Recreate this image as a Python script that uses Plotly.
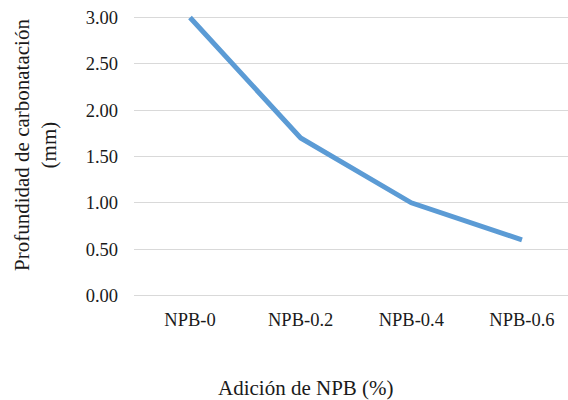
import plotly.graph_objects as go

categories = ["NPB-0", "NPB-0.2", "NPB-0.4", "NPB-0.6"]
values = [3.00, 1.70, 1.00, 0.60]
y_ticks = [0, 0.5, 1.0, 1.5, 2.0, 2.5, 3.0]
x_title = "Adición de NPB (%)"
y_title = "Profundidad de carbonatación<br>(mm)"

W, H = 568, 400
L, R, T, B = 134, 0, 12, 99
pw, ph = W - L - R, H - T - B

font = "Liberation Serif"

fig = go.Figure()
fig.add_trace(go.Scatter(
    x=list(range(len(categories))), y=values, mode="lines",
    line=dict(color="#5b9bd5", width=5),
    showlegend=False, hoverinfo="skip",
))

fig.update_layout(
    width=W, height=H,
    margin=dict(l=L, r=R, t=T, b=B, pad=0),
    paper_bgcolor="white", plot_bgcolor="white",
    font=dict(family=font, size=18.5, color="#1a1a1a"),
    xaxis=dict(
        range=[-0.506, 3.416], tickmode="array",
        tickvals=list(range(len(categories))), ticktext=categories,
        tickfont=dict(family=font, size=18.5),
        showgrid=False, zeroline=False, showline=False, ticks="",
        ticklabelstandoff=5, fixedrange=True,
    ),
    yaxis=dict(
        range=[-0.06, 3.06], tickmode="array", tickvals=y_ticks,
        ticktext=[f"{v:.2f}" for v in y_ticks],
        tickfont=dict(family=font, size=18.5),
        showgrid=True, gridcolor="#d9d9d9", gridwidth=1,
        zeroline=False, showline=False, ticks="",
        ticklabelstandoff=15, fixedrange=True,
    ),
    annotations=[
        dict(text=x_title, xref="paper", yref="paper",
             x=(305.5 - L) / pw, y=(T + ph - 388) / ph,
             xanchor="center", yanchor="middle", showarrow=False,
             font=dict(family=font, size=21, color="#1a1a1a")),
        dict(text=y_title, xref="paper", yref="paper",
             x=(36 - L) / pw, y=(T + ph - 145) / ph,
             xanchor="center", yanchor="middle", showarrow=False,
             textangle=-90,
             font=dict(family=font, size=21, color="#1a1a1a")),
    ],
)

fig.write_html("out.html")
